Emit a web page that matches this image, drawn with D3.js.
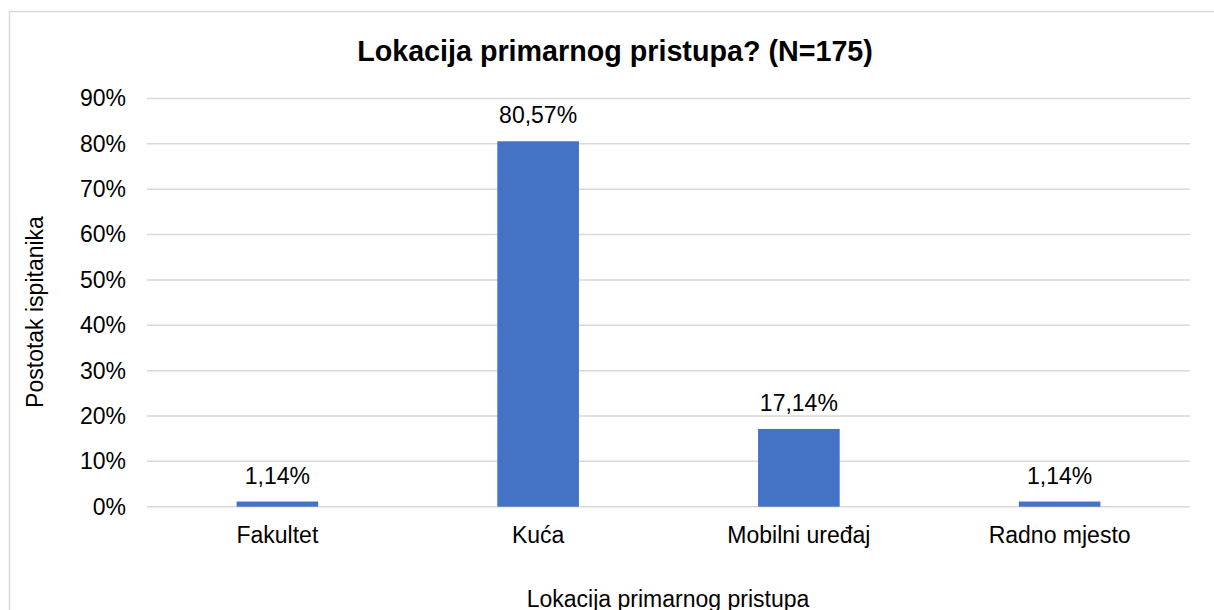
<!DOCTYPE html>
<html>
<head>
<meta charset="utf-8">
<script src="https://cdn.jsdelivr.net/npm/d3@7"></script>
<style>
  body { margin: 0; background: #fff; }
  text { font-family: 'Liberation Sans', Arial, sans-serif; fill: #000; }
</style>
</head>
<body>
<div id="chart"></div>
<script>
// chart data
var categories = ['Fakultet', 'Kuća', 'Mobilni uređaj', 'Radno mjesto']
var percents = [1.14, 80.57, 17.14, 1.14]
var valueLabels = ['1,14%', '80,57%', '17,14%', '1,14%']
var yTicks = [0, 10, 20, 30, 40, 50, 60, 70, 80, 90]

var svgWidth = 1214
var svgHeight = 610

var svg = d3.select('#chart')
  .append('svg')
  .attr('width', svgWidth)
  .attr('height', svgHeight)

// outer chart border (runs off the bottom/right of the picture)
svg.append('rect')
  .attr('x', 9.5)
  .attr('y', 11.5)
  .attr('width', 1240)
  .attr('height', 640)
  .attr('fill', 'none')
  .attr('stroke', '#d9d9d9')
  .attr('stroke-width', 1.5)

var plot = { left: 147, right: 1190, top: 98.5, bottom: 506.7 }

var x = d3.scaleBand()
  .domain(categories)
  .range([plot.left, plot.right])
  .paddingInner(0.687)
  .paddingOuter(0.3435)

var y = d3.scaleLinear()
  .domain([0, 90])
  .range([plot.bottom, plot.top])

// gridlines
svg.append('g')
  .selectAll('line')
  .data(yTicks)
  .enter()
  .append('line')
  .attr('x1', plot.left)
  .attr('x2', plot.right)
  .attr('y1', d => y(d))
  .attr('y2', d => y(d))
  .attr('stroke', '#d9d9d9')
  .attr('stroke-width', 1.5)

// y axis labels
var leftAxis = d3.axisLeft(y)
  .tickValues(yTicks)
  .tickFormat(d => d + '%')
  .tickSize(0)
  .tickPadding(21)

var yAxisG = svg.append('g')
  .attr('transform', `translate(${plot.left}, 0)`)
  .call(leftAxis)
yAxisG.select('.domain').remove()
yAxisG.selectAll('text')
  .style('font-size', '23px')
  .style('font-family', "'Liberation Sans', Arial, sans-serif")
  .attr('fill', '#000')

// bars
svg.append('g')
  .selectAll('rect')
  .data(percents)
  .enter()
  .append('rect')
  .attr('x', (d, i) => x(categories[i]))
  .attr('y', d => y(d))
  .attr('width', x.bandwidth())
  .attr('height', d => y(0) - y(d))
  .attr('fill', '#4472c4')

// value labels above bars
svg.append('g')
  .selectAll('text')
  .data(percents)
  .enter()
  .append('text')
  .attr('x', (d, i) => x(categories[i]) + x.bandwidth() / 2)
  .attr('y', d => y(d) - 18)
  .attr('text-anchor', 'middle')
  .style('font-size', '23px')
  .text((d, i) => valueLabels[i])

// x axis labels
var bottomAxis = d3.axisBottom(x)
  .tickSize(0)
  .tickPadding(20)

var xAxisG = svg.append('g')
  .attr('transform', `translate(0, ${plot.bottom})`)
  .call(bottomAxis)
xAxisG.select('.domain').remove()
xAxisG.selectAll('text')
  .style('font-size', '23px')
  .style('font-family', "'Liberation Sans', Arial, sans-serif")
  .attr('fill', '#000')

// title
svg.append('text')
  .attr('x', 615)
  .attr('y', 61)
  .attr('text-anchor', 'middle')
  .style('font-size', '28.7px')
  .style('font-weight', 'bold')
  .text('Lokacija primarnog pristupa? (N=175)')

// axis titles
svg.append('text')
  .attr('x', 668)
  .attr('y', 607)
  .attr('text-anchor', 'middle')
  .style('font-size', '23px')
  .text('Lokacija primarnog pristupa')

svg.append('text')
  .attr('transform', 'translate(43, 312) rotate(-90)')
  .attr('text-anchor', 'middle')
  .style('font-size', '23px')
  .text('Postotak ispitanika')
</script>
</body>
</html>
